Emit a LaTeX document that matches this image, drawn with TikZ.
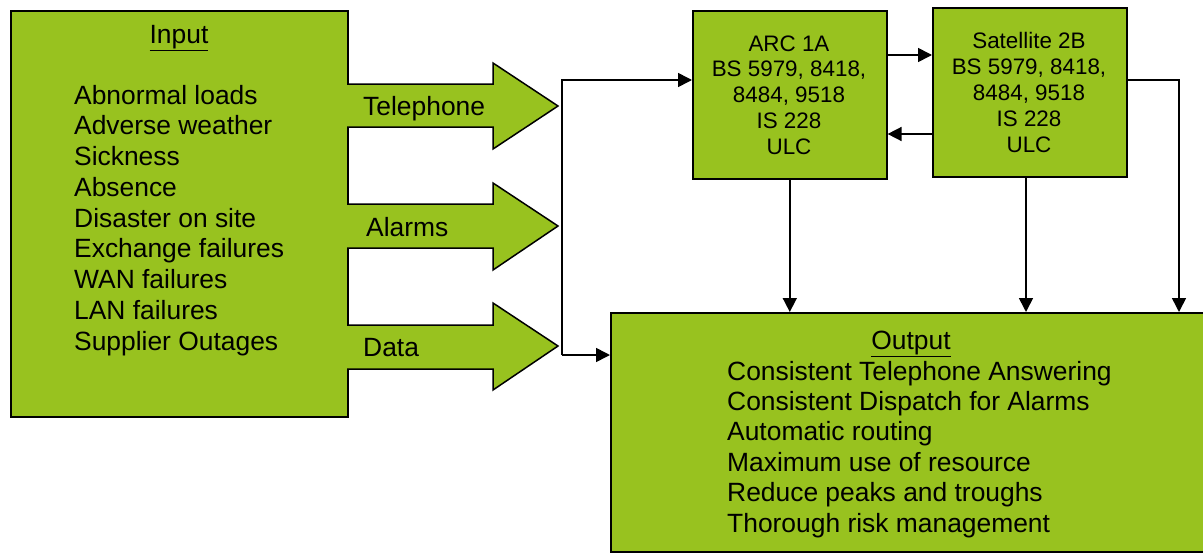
\documentclass[tikz,border=0pt]{standalone}
\usepackage{fontspec}
\setmainfont{Liberation Sans}
\usetikzlibrary{arrows.meta}
\definecolor{boxgreen}{RGB}{152,194,31}
\begin{document}
\begin{tikzpicture}[x=1pt,y=-1pt,
  box/.style={draw=black, line width=1.6pt, fill=boxgreen, anchor=north west, inner sep=0pt},
  fat/.style={draw=black, line width=1.5pt, fill=boxgreen, line join=miter},
  conn/.style={draw=black, line width=1.6pt, -{Triangle[length=14pt,width=14pt]}},
  big/.style={font=\fontsize{26.4}{30}\selectfont, inner sep=0pt},
  small/.style={font=\fontsize{22.4}{26}\selectfont, inner sep=0pt},
]
\useasboundingbox (0,0) rectangle (1203,552);

% boxes
\node[box, minimum width=337pt, minimum height=406pt] (in) at (10,10) {};
\node[box, minimum width=194pt, minimum height=168pt] (arc) at (692,10) {};
\node[box, minimum width=194pt, minimum height=169pt] (sat) at (932,7) {};
\node[box, minimum width=600pt, minimum height=239pt] (out) at (610,312) {};

% fat arrows
\filldraw[fat] (347,84) -- (493,84) -- (493,63) -- (558,106) -- (493,149) -- (493,127) -- (347,127);
\filldraw[fat] (347,204) -- (493,204) -- (493,183) -- (558,226) -- (493,270) -- (493,248) -- (347,248);
\filldraw[fat] (347,325) -- (493,325) -- (493,303) -- (558,346) -- (493,390) -- (493,369) -- (347,369);
\node[big, anchor=base west] (ltel) at (363,115) {Telephone};
\node[big, anchor=base west] (lal) at (366,236) {Alarms};
\node[big, anchor=base west] (ldat) at (363,356) {Data};

% input text
\node[big, anchor=base] (intitle) at (179,43) {\underline{Input}};
\foreach \t [count=\i from 0] in {Abnormal loads, Adverse weather, Sickness, Absence, Disaster on site, Exchange failures, WAN failures, LAN failures, Supplier Outages}
  \node[big, anchor=base west] (in\i) at (74,{104+30.75*\i}) {\t};

% output text
\node[big, anchor=base] (outtitle) at (911,349) {\underline{Output}};
\foreach \t [count=\i from 0] in {Consistent Telephone Answering, Consistent Dispatch for Alarms, Automatic routing, Maximum use of resource, Reduce peaks and troughs, Thorough risk management}
  \node[big, anchor=base west] (out\i) at (727,{380+30.4*\i}) {\t};

% ARC text
\foreach \t [count=\i from 0] in {ARC 1A, {BS 5979, 8418,}, {8484, 9518}, IS 228, ULC}
  \node[small, anchor=base] (arc\i) at (789,{51+25.75*\i}) {\t};
\foreach \t [count=\i from 0] in {Satellite 2B, {BS 5979, 8418,}, {8484, 9518}, IS 228, ULC}
  \node[small, anchor=base] (sat\i) at (1029,{48+26.2*\i}) {\t};

% connectors
\coordinate (j1) at (562,80);
\coordinate (j2) at (562,355);
\coordinate (sx) at (1026,0);
\coordinate (rx) at (1179,80);
\draw[conn] (j2) -- (j1) -- (arc.west |- j1);
\draw[conn] (j2) -- (out.west |- j2);
\draw[conn] (arc.east |- 0,55) -- (sat.west |- 0,55);
\draw[conn] (sat.west |- 0,134) -- (arc.east |- 0,134);
\draw[conn] (arc.south) -- (arc.south |- out.north);
\draw[conn] (sat.south -| sx) -- (out.north -| sx);
\draw[conn] (sat.east |- rx) -- (rx) -- (out.north -| rx);
\end{tikzpicture}
\end{document}
